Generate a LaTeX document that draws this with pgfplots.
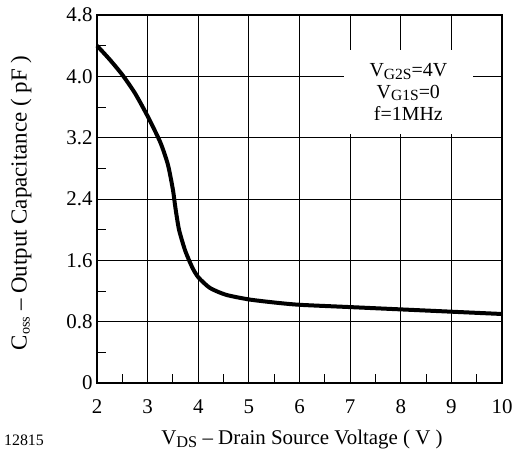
\documentclass[border=0pt]{standalone}
\usepackage{fontspec}
\setmainfont{Liberation Serif}
\usepackage{pgfplots}
\pgfplotsset{compat=1.18}
\newcommand{\sub}[1]{\raisebox{-0.3ex}{\scalebox{0.78}{#1}}}

\begin{document}
\begin{tikzpicture}
\begin{axis}[
    name=ax,
    at={(0,0)}, anchor=south west,
    scale only axis,
    width=405bp, height=368bp,
    xmin=2, xmax=10,
    ymin=0, ymax=4.8,
    xtick={2,3,...,10},
    ytick={0,0.8,1.6,2.4,3.2,4.0,4.8},
    yticklabels={0,0.8,1.6,2.4,3.2,4.0,4.8},
    minor xtick={2.5,3.5,...,9.5},
    minor ytick={0.4,1.2,2.0,2.8,3.6,4.4},
    xtick pos=left, ytick pos=left,
    major tick length=0pt,
    minor tick length=9bp,
    tick align=inside,
    minor tick style={black, line width=0.9bp},
    grid=major,
    major grid style={black, line width=0.9bp},
    axis line style={black, line width=2bp},
    /pgf/number format/assume math mode=true,
    ticklabel style={font=\fontsize{21}{24}\selectfont},
    xticklabel style={anchor=center, yshift=-24bp},
    yticklabel style={anchor=east, xshift=-1bp},
    clip=false,
]
\addplot[black, line width=4bp, smooth, tension=0.4] coordinates {
    (2,4.40) (2.25,4.22) (2.5,4.02) (2.75,3.78) (3,3.48) (3.25,3.14)
    (3.4,2.85) (3.5,2.52) (3.55,2.28) (3.62,2.00) (3.74,1.73) (3.88,1.51)
    (4,1.38) (4.23,1.24) (4.55,1.15) (5,1.09) (5.5,1.05) (6,1.02)
    (7,0.99) (8,0.96) (9,0.93) (10,0.90)
};
\node[fill=white, minimum width=129bp, minimum height=84bp, align=center,
      font=\fontsize{20}{22}\selectfont, inner sep=0pt]
    at (axis cs:8.15,3.8)
    {V\sub{G2S}=4V\\V\sub{G1S}=0\\f=1MHz};
\node[font=\fontsize{23}{26}\selectfont, rotate=90]
    at ([xshift=-76bp, yshift=180bp]rel axis cs:0,0)
    {C\raisebox{-0.3ex}{\scalebox{0.62}{oss}} -- Output Capacitance ( pF )};
\node[font=\fontsize{21}{24}\selectfont]
    at ([xshift=205bp, yshift=-57bp]rel axis cs:0,0)
    {V\sub{DS} -- Drain Source Voltage ( V )};
\node[font=\fontsize{16}{18}\selectfont]
    at ([xshift=-73bp, yshift=-57bp]rel axis cs:0,0) {12815};
\end{axis}
\pgfresetboundingbox
\path (ax.south west) ++(-97bp,-76bp) rectangle (ax.north east) ++(10bp,15bp);
\end{tikzpicture}
\end{document}
